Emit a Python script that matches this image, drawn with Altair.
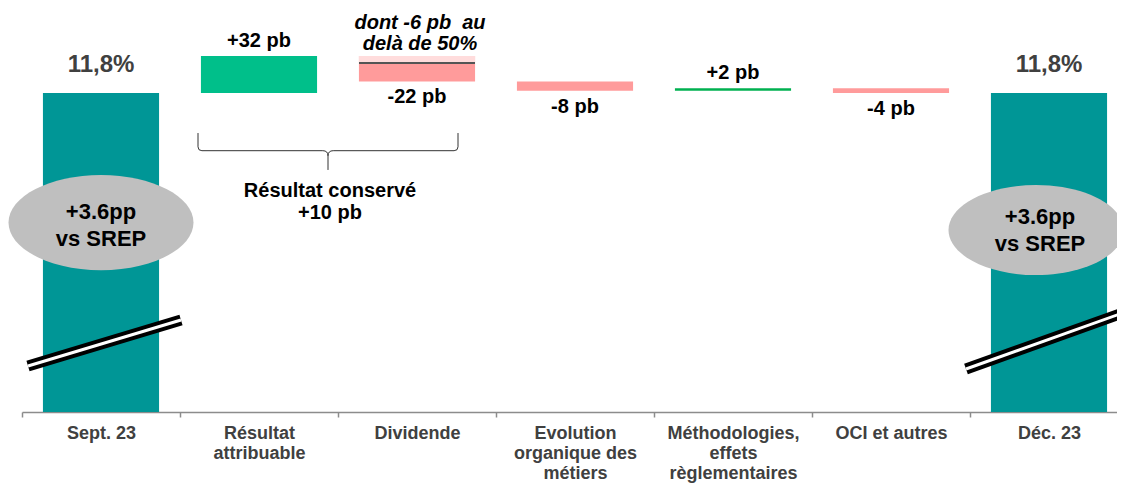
import altair as alt
import pandas as pd

# ---------------- data ----------------
categories = [
    "Sept. 23",
    "Résultat attribuable",
    "Dividende",
    "Evolution organique des métiers",
    "Méthodologies, effets règlementaires",
    "OCI et autres",
    "Déc. 23",
]
label_lines = [
    ["Sept. 23"],
    ["Résultat", "attribuable"],
    ["Dividende"],
    ["Evolution", "organique des", "métiers"],
    ["Méthodologies,", "effets", "règlementaires"],
    ["OCI et autres"],
    ["Déc. 23"],
]
start_ratio_pb = 1180          # 11,8 %
variations_pb = [32, -22, -8, 2, -4]
end_ratio_pb = 1180            # 11,8 %
dividend_above_50pct_pb = -6

dividend_note = "dont -6 pb\u00a0 au\ndelà de 50%"
srep_note = "+3.6pp\nvs SREP"
retained_note = "Résultat conservé\n+10 pb"

# ---------------- style / layout ----------------
FONT = "Liberation Sans"
TEAL = "#009696"
GREEN = "#00BF8A"
GREEN_LINE = "#00B050"
PINK = "#FF9B9B"
PINK_LIGHT = "#FFDCDC"
GREY_TXT = "#404040"
ELLIPSE_GREY = "#BFBFBF"
bar_colors = [TEAL, GREEN, PINK, PINK, GREEN_LINE, PINK, TEAL]

AXIS_FLOOR_PB = 904      # broken axis: visible bottom
AXIS_TOP_PB = 1253.5
W, H = 1095, 404
X_RANGE = [0, 1106]      # bands run slightly past the visible edge, as in the original

# ---------------- table ----------------
rows = []
rows.append(dict(cat=categories[0], lo=AXIS_FLOOR_PB, hi=start_ratio_pb,
                 label=f"{start_ratio_pb/100:.1f}".replace(".", ",") + "%", kind="total"))
run = start_ratio_pb
for cat, d in zip(categories[1:-1], variations_pb):
    a, b = run, run + d
    rows.append(dict(cat=cat, lo=min(a, b), hi=max(a, b), label=f"{d:+d} pb",
                     kind="pos" if d > 0 else "neg"))
    run = b
rows.append(dict(cat=categories[-1], lo=AXIS_FLOOR_PB, hi=end_ratio_pb,
                 label=f"{end_ratio_pb/100:.1f}".replace(".", ",") + "%", kind="total"))
df = pd.DataFrame(rows)
df["color"] = bar_colors

div_row = df[df.cat == "Dividende"].iloc[0]
df_div = pd.DataFrame([dict(cat="Dividende", hi=div_row.hi,
                            lo=div_row.hi + dividend_above_50pct_pb)])

xs = alt.Scale(domain=categories, range=X_RANGE, paddingInner=0, paddingOuter=0)
ys = alt.Scale(domain=[AXIS_FLOOR_PB, AXIS_TOP_PB], nice=False, zero=False)

label_expr = "datum.label"
for cat, lines in reversed(list(zip(categories, label_lines))):
    if len(lines) > 1:
        arr = "[" + ", ".join("'" + l + "'" for l in lines) + "]"
        label_expr = f"datum.label === '{cat}' ? {arr} : ({label_expr})"

x_axis = alt.Axis(title=None, labelExpr=label_expr, tickBand="extent", labelAngle=0,
                  domainColor="#8C8C8C", domainWidth=1.5, tickColor="#8C8C8C",
                  tickWidth=1.5, tickSize=5, labelFont=FONT, labelFontSize=18,
                  labelFontWeight="bold", labelColor=GREY_TXT, labelLineHeight=20,
                  labelPadding=7, labelLimit=0, grid=False, labelOverlap=False)


def xd(cat):
    return alt.XDatum(cat, type="nominal", scale=xs)


def yd(v):
    return alt.YDatum(v, type="quantitative", scale=ys, axis=None)


bars = alt.Chart(df).mark_bar(width=alt.RelativeBandSize(0.735)).encode(
    x=alt.X("cat:N", scale=xs, axis=x_axis),
    y=alt.Y("lo:Q", scale=ys, axis=None),
    y2="hi:Q",
    color=alt.Color("color:N", scale=None),
)

div_light = alt.Chart(df_div).mark_bar(width=alt.RelativeBandSize(0.735), color=PINK_LIGHT).encode(
    x=alt.X("cat:N", scale=xs), y=alt.Y("lo:Q", scale=ys, axis=None), y2="hi:Q")
div_line = alt.Chart(df_div).mark_tick(size=116, thickness=2, color="#555555", opacity=1).encode(
    x=alt.X("cat:N", scale=xs), y=alt.Y("lo:Q", scale=ys, axis=None))

txt_common = dict(font=FONT, fontWeight="bold", baseline="alphabetic", align="center")
total_txt = alt.Chart(df[df.kind == "total"]).mark_text(
    dy=-21, fontSize=24, color=GREY_TXT, **txt_common).encode(
    x=alt.X("cat:N", scale=xs), y=alt.Y("hi:Q", scale=ys, axis=None), text="label:N")
pos_txt = alt.Chart(df[df.kind == "pos"]).mark_text(
    dy=-9, fontSize=20, color="black", **txt_common).encode(
    x=alt.X("cat:N", scale=xs), y=alt.Y("hi:Q", scale=ys, axis=None), text="label:N")
neg_txt = alt.Chart(df[df.kind == "neg"]).mark_text(
    dy=22, fontSize=20, color="black", **txt_common).encode(
    x=alt.X("cat:N", scale=xs), y=alt.Y("lo:Q", scale=ys, axis=None), text="label:N")


def axis_break(cat, y1, y2, off1, off2):
    base = alt.Chart(pd.DataFrame({"k": [0]}))
    enc = dict(x=xd(cat), x2=alt.X2Datum(cat), y=yd(y1), y2=alt.Y2Datum(y2))
    black = base.mark_rule(color="black", strokeWidth=11, xOffset=off1, x2Offset=off2,
                           strokeCap="butt").encode(**enc)
    white = base.mark_rule(color="white", strokeWidth=3, xOffset=off1, x2Offset=off2,
                           strokeCap="butt").encode(**enc)
    return black + white


ELLIPSE = "M -1 0 A 1 0.515 0 1 0 1 0 A 1 0.515 0 1 0 -1 0 Z"
BRACE = ("M -1 -0.136 L -1 -0.03 Q -1 0 -0.97 0 L -0.04 0 Q 0 0 0 0.04 L 0 0.148 "
         "M 0 0.04 Q 0 0 0.04 0 L 0.97 0 Q 1 0 1 -0.03 L 1 -0.136")


def ellipse(cat, yv, width, xoff):
    return alt.Chart(pd.DataFrame({"k": [0]})).mark_point(
        shape=ELLIPSE, filled=True, color=ELLIPSE_GREY, opacity=1, strokeWidth=0,
        size=width * width, xOffset=xoff).encode(x=xd(cat), y=yd(yv))


def note(text, cat, yv, xoff, size, lh, italic=False, color="black"):
    props = dict(font=FONT, fontWeight="bold", fontSize=size, lineHeight=lh,
                 lineBreak="\n", baseline="alphabetic", align="center", color=color,
                 xOffset=xoff, text=text)
    if italic:
        props["fontStyle"] = "italic"
    return alt.Chart(pd.DataFrame({"k": [0]})).mark_text(**props).encode(x=xd(cat), y=yd(yv))


brace = alt.Chart(pd.DataFrame({"k": [0]})).mark_point(
    shape=BRACE, filled=False, stroke="#333333", strokeWidth=1, opacity=1,
    size=260 * 260, xOffset=-89).encode(x=xd("Dividende"), y=yd(1130.05))

chart = alt.layer(
    bars,
    div_light,
    div_line,
    axis_break("Sept. 23", 943.8, 983.6, -73, 80),
    axis_break("Déc. 23", 941.2, 991.3, -83, 79),
    ellipse("Sept. 23", 1067.9, 185, 0),
    ellipse("Déc. 23", 1061.4, 175, -13),
    note(srep_note, "Sept. 23", 1071.0, 0, 22, 27),
    note(srep_note, "Déc. 23", 1066.6, -9, 22, 27),
    total_txt,
    pos_txt,
    neg_txt,
    note(dividend_note, "Dividende", 1235.3, 3, 20, 21, italic=True),
    note(retained_note, "Dividende", 1090.0, -87, 20, 22),
    brace,
).properties(
    width=W, height=H,
    autosize=alt.AutoSizeParams(type="none"),
    padding={"left": 14, "top": 0, "right": 0, "bottom": 72},
    background="white",
).configure_view(stroke=None)

chart.save("out.html", embed_options={"renderer": "svg", "actions": False})
